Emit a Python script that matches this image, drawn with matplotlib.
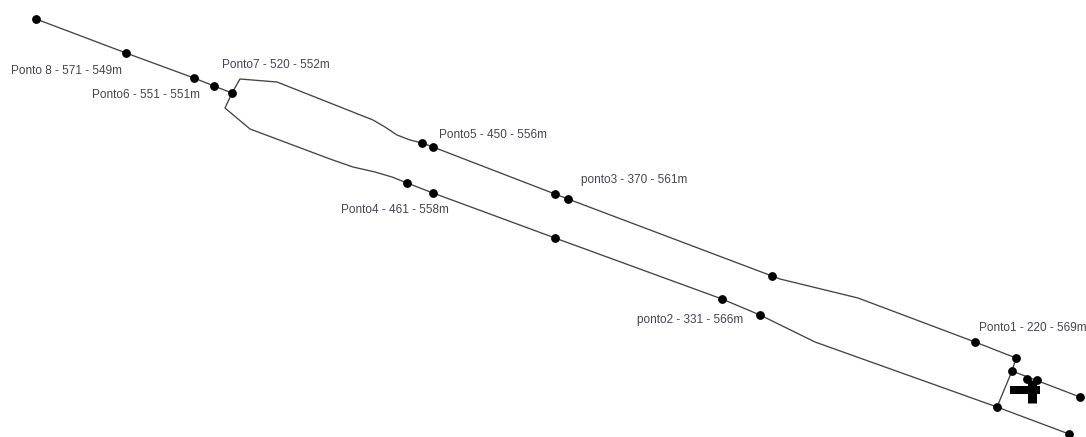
import matplotlib
matplotlib.use("Agg")
import matplotlib.pyplot as plt

upper_x = [36, 126, 194, 214, 232, 240, 277, 373, 385, 397, 410, 422, 433, 555, 568, 772, 780, 858, 975, 1016]
upper_y = [19, 53, 78, 86, 93, 79, 82, 120, 127, 135, 140, 143, 147, 194, 199, 276, 279, 298, 342, 358]
lower_x = [232, 225, 250, 330, 353, 375, 392, 407, 433, 555, 722, 760, 815, 997, 1069]
lower_y = [93, 108, 129, 159, 167, 172, 177, 183, 193, 238, 299, 315, 342, 407, 434]
link_x = [1016, 1012, 997]
link_y = [358, 371, 407]
branch_x = [1012, 1080]
branch_y = [371, 397]

node_x = [36, 126, 194, 214, 232, 422, 433, 555, 568, 772, 975, 1016, 1012, 1080,
          407, 433, 555, 722, 760, 997, 1069, 1027, 1037]
node_y = [19, 53, 78, 86, 93, 143, 147, 194, 199, 276, 342, 358, 371, 397,
          183, 193, 238, 299, 315, 407, 434, 379, 380]

labels = ["Ponto 8 - 571 - 549m", "Ponto6 - 551 - 551m", "Ponto7 - 520 - 552m",
          "Ponto5 - 450 - 556m", "ponto3 - 370 - 561m", "Ponto4 - 461 - 558m",
          "ponto2 - 331 - 566m", "Ponto1 - 220 - 569m"]
label_x = [11, 92, 222, 439, 581, 341, 637, 979]
label_y = [71, 95, 65, 135, 180, 210, 320, 328]

fig = plt.figure(figsize=(10.86, 4.37), dpi=100, facecolor="white")
ax = fig.add_axes([0, 0, 1, 1])
ax.set_xlim(0, 1086)
ax.set_ylim(437, 0)
ax.axis("off")

line_color = "#444444"
for xs, ys in [(upper_x, upper_y), (lower_x, lower_y), (link_x, link_y), (branch_x, branch_y)]:
    ax.plot(xs, ys, color=line_color, lw=0.95, zorder=1)

ax.scatter(node_x, node_y, s=40, color="black", linewidths=0, zorder=3)

# Pump/building symbol near the last node
ax.plot([1010, 1040], [390, 390], color="black", lw=5.8, solid_capstyle="butt", zorder=3)
ax.plot([1031.5, 1031.5], [380, 403], color="black", lw=6.5, solid_capstyle="butt", zorder=3)

for t, x, y in zip(labels, label_x, label_y):
    ax.text(x, y, t, fontsize=8.5, family="Liberation Sans", color="#45454f",
            ha="left", va="center")

fig.savefig("out.png", dpi=100)
